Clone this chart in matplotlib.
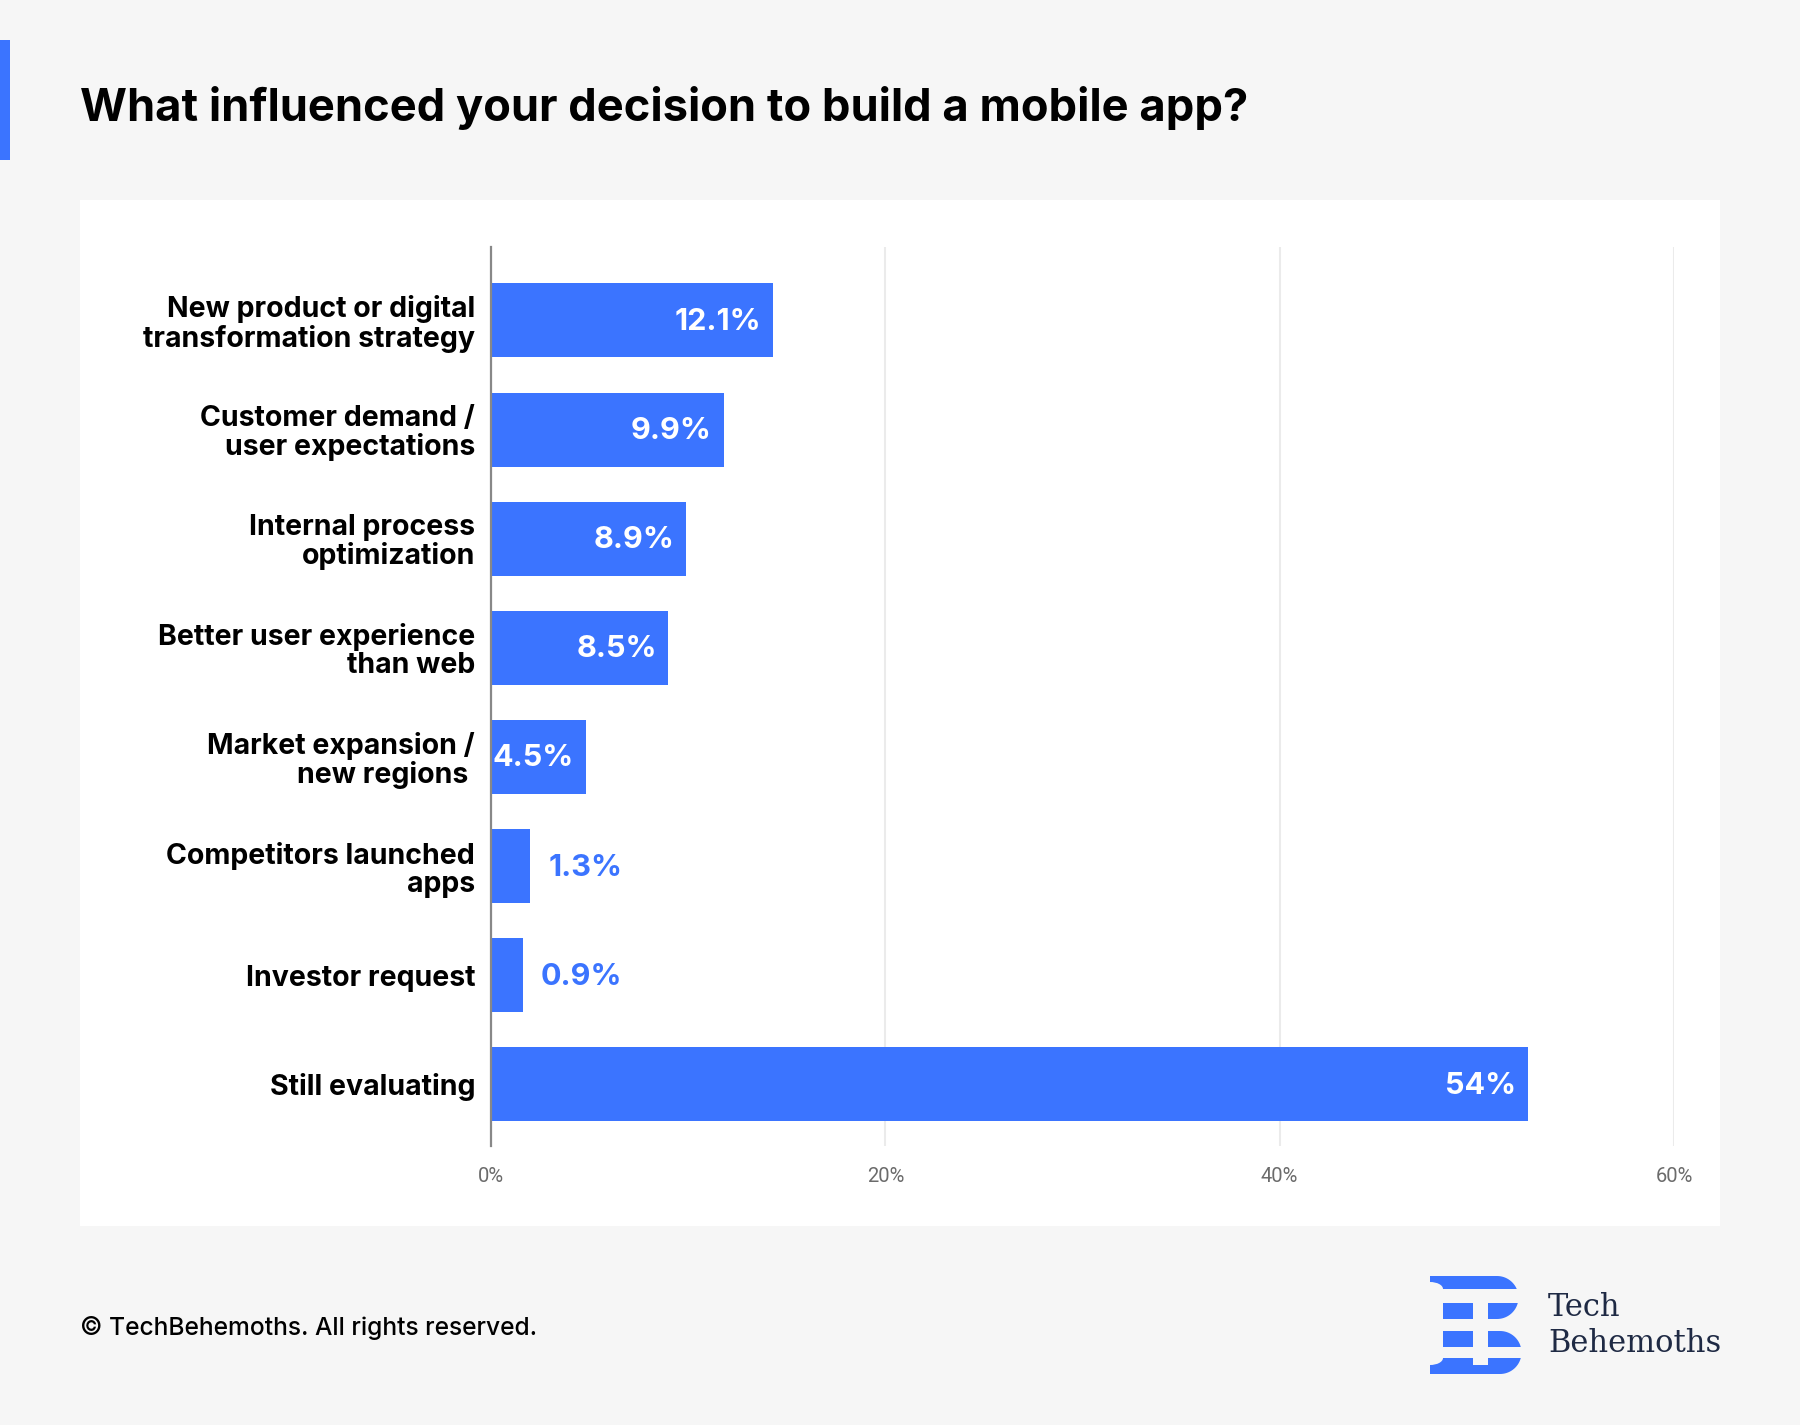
import numpy as np
import matplotlib
matplotlib.use("Agg")
import matplotlib.pyplot as plt
from matplotlib.patches import Rectangle, Polygon, Ellipse

# ---------------- data ----------------
categories = [
    "New product or digital\ntransformation strategy",
    "Customer demand /\nuser expectations",
    "Internal process\noptimization",
    "Better user experience\nthan web",
    "Market expansion /\nnew regions ",
    "Competitors launched\napps",
    "Investor request",
    "Still evaluating",
]
bar_values = [14.3, 11.8, 9.9, 9.0, 4.8, 2.0, 1.6, 52.6]
value_labels = ["12.1%", "9.9%", "8.9%", "8.5%", "4.5%", "1.3%", "0.9%", "54%"]
x_ticks = [0, 20, 40, 60]
x_tick_labels = ["0%", "20%", "40%", "60%"]

title = "What influenced your decision to build a mobile app?"
footer = "\u00a9 TechBehemoths. All rights reserved."

# ---------------- style ----------------
W, H = 1800, 1425
BG = "#f6f6f6"
BLUE = "#3b74ff"
NAVY = "#1f2a44"

fig = plt.figure(figsize=(W / 100, H / 100), dpi=100, facecolor=BG)


def fx(x):
    return x / W


def fy(y):
    return 1 - y / H


# white panel
fig.patches.append(Rectangle((fx(80), fy(1226)), fx(1720) - fx(80), fy(200) - fy(1226),
                             transform=fig.transFigure, facecolor="white", edgecolor="none", zorder=-2))
# accent bar
fig.patches.append(Rectangle((0, fy(160)), fx(10), fy(40) - fy(160),
                             transform=fig.transFigure, facecolor=BLUE, edgecolor="none", zorder=-1))

# title
fig.text(fx(80), fy(121), title, fontsize=32.6, fontweight="bold", family="Inter",
         color="black", ha="left", va="baseline")

# ---------------- axes ----------------
ax = fig.add_axes([fx(491), fy(1146), fx(1674) - fx(491), fy(247) - fy(1146)])
ax.set_zorder(5)
ax.patch.set_alpha(0)

y = np.arange(len(categories))
ax.barh(y, bar_values, height=0.678, color=BLUE, zorder=3)
ax.set_xlim(0, 60)
ax.set_ylim(7.564, -0.673)

ax.set_yticks(y)
ax.set_yticklabels(categories, fontsize=20.5, fontweight="bold", family="Inter",
                   color="black", linespacing=1.05)
ax.tick_params(axis="y", length=0, pad=11.5)

ax.set_xticks(x_ticks)
ax.set_xticklabels(x_tick_labels, fontsize=14.5, family="Roboto", fontweight="normal", color="#6b6b6b")
ax.tick_params(axis="x", length=0, pad=15)

ax.grid(axis="x", color="#ebebeb", linewidth=1.5, zorder=0)
ax.grid(axis="y", visible=False)
for s in ["top", "right", "bottom"]:
    ax.spines[s].set_visible(False)
ax.spines["left"].set_color("#888888")
ax.spines["left"].set_linewidth(1.6)
ax.spines["left"].set_zorder(4)

for yi, v, lab in zip(y, bar_values, value_labels):
    if v >= 3:
        ax.annotate(lab, (v, yi), xytext=(-8.5, -1), textcoords="offset points",
                    ha="right", va="center", fontsize=22, fontweight="bold",
                    family="Inter", color="white", zorder=5)
    else:
        ax.annotate(lab, (v, yi), xytext=(13, -1), textcoords="offset points",
                    ha="left", va="center", fontsize=22, fontweight="bold",
                    family="Inter", color=BLUE, zorder=5)

# ---------------- footer ----------------
fig.text(fx(80), fy(1328), footer, fontsize=17.7, fontweight="medium", family="Inter",
         color="black", ha="left", va="center")

# brand text
fig.text(fx(1548), fy(1316), "Tech", fontsize=22, family="DejaVu Serif", color=NAVY,
         ha="left", va="baseline")
fig.text(fx(1548), fy(1352), "Behemoths", fontsize=22, family="DejaVu Serif", color=NAVY,
         ha="left", va="baseline")


# logo icon (decorative shapes in pixel coords)
def poly_px(pts, color, z=2):
    fig.patches.append(Polygon([(fx(px), fy(py)) for px, py in pts], closed=True,
                               transform=fig.transFigure, facecolor=color,
                               edgecolor="none", zorder=z))


def lobe(x0, y0, x1c, y1):
    r = (y1 - y0) / 2
    cy = (y0 + y1) / 2
    t = np.linspace(-np.pi / 2, np.pi / 2, 40)
    arc = [(x1c + r * np.cos(a), cy + r * np.sin(a)) for a in t]
    return [(x0, y0)] + arc + [(x0, y1)]


poly_px(lobe(1443, 1276, 1497, 1319), BLUE)
poly_px(lobe(1443, 1331, 1500, 1374), BLUE)
poly_px([(1430, 1276), (1444, 1276), (1444, 1289), (1430, 1289)], BLUE)
poly_px([(1430, 1358), (1444, 1358), (1444, 1374), (1430, 1374)], BLUE)
# gaps
for g0, g1 in [(1289, 1303), (1319, 1331), (1347, 1358)]:
    poly_px([(1425, g0), (1530, g0), (1530, g1), (1425, g1)], BG, z=3)
poly_px([(1473, 1289), (1488, 1289), (1488, 1365), (1473, 1365)], BG, z=3)
for cy in (1289, 1358):
    fig.patches.append(Ellipse((fx(1430), fy(cy)), 26 / W, 14 / H, transform=fig.transFigure,
                               facecolor=BG, edgecolor="none", zorder=3))

fig.savefig("out.png", dpi=100, facecolor=BG)
